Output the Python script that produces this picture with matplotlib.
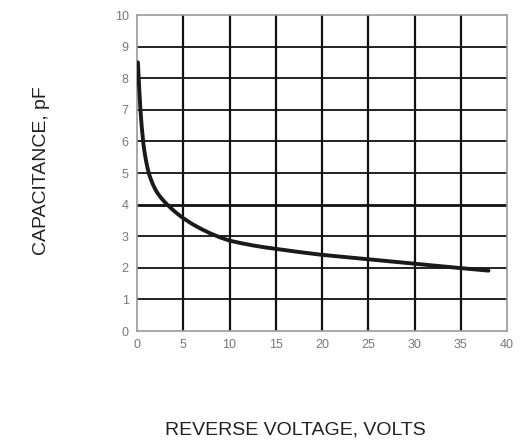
import numpy as np
import matplotlib.pyplot as plt

# reverse voltage (V) and capacitance (pF)
volts = [0.1, 0.2, 0.35, 0.5, 0.7, 0.85, 1.0, 1.15, 1.3, 1.5, 1.7, 1.95, 2.2, 2.45, 2.7, 3.0, 3.3, 3.6,
         4.0, 4.5, 5.0, 6.0, 7.0, 8.0, 9.0, 10.0, 11.25, 12.5, 13.75, 15.0, 17.5,
         20.0, 22.5, 25.0, 27.5, 30.0, 32.5, 35.0, 38.0]
cap_pf = [8.5, 7.9, 7.1, 6.5, 5.9, 5.6, 5.35, 5.14, 4.97, 4.8, 4.65, 4.5, 4.37, 4.27, 4.18, 4.08, 3.99, 3.91,
          3.8, 3.68, 3.57, 3.38, 3.22, 3.08, 2.96, 2.86, 2.78, 2.71, 2.65, 2.6, 2.5,
          2.41, 2.34, 2.27, 2.2, 2.13, 2.06, 1.99, 1.91]

xticks = [0, 5, 10, 15, 20, 25, 30, 35, 40]
yticks = [0, 1, 2, 3, 4, 5, 6, 7, 8, 9, 10]

plt.rcParams['font.family'] = ['Liberation Sans', 'DejaVu Sans']

fig = plt.figure(figsize=(5.22, 4.48), dpi=100)
ax = fig.add_axes([137/522, 1 - 331/448, 370/522, 316/448])

for x in xticks[1:-1]:
    ax.axvline(x, color='#111111', lw=1.6, zorder=1)
for y in yticks[1:-1]:
    ax.axhline(y, color='#111111', lw=2.0 if y == 4 else 1.3, zorder=1)

ax.plot(volts, cap_pf, color='#1a1a1a', lw=2.8, solid_capstyle='round',
        solid_joinstyle='round', zorder=3)

ax.set_xlim(0, 40)
ax.set_ylim(0, 10)
ax.set_xticks(xticks)
ax.set_yticks(yticks)
ax.tick_params(length=0, labelsize=9, colors='#777777', pad=6)
for s in ax.spines.values():
    s.set_color('#999999')
    s.set_linewidth(1.2)

fig.text(295/522, 1 - 430/448, 'REVERSE VOLTAGE, VOLTS', ha='center', va='center',
         fontsize=14, color='#222222')
fig.text(42/522, 1 - 171/448, 'CAPACITANCE, pF', ha='center', va='center',
         rotation=90, fontsize=14, color='#222222')

fig.savefig('out.png', dpi=100)
